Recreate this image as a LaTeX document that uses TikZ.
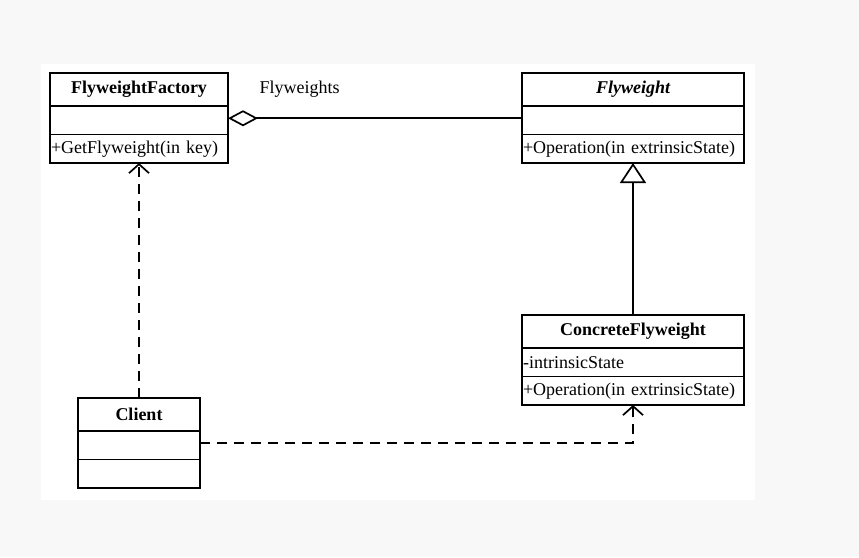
\documentclass[tikz,border=0pt]{standalone}
\usepackage{fontspec}
\setmainfont{Liberation Serif}
\usetikzlibrary{positioning,arrows.meta}
\definecolor{pagebg}{HTML}{F8F8F8}
\begin{document}
\begin{tikzpicture}[x=1pt,y=-1pt,
  font=\fontsize{18}{20}\selectfont,
  box/.style={draw,rectangle,line width=1.6pt,outer sep=0pt,inner xsep=1pt,inner ysep=0pt,minimum height=28.5pt},
  head/.style={box,minimum width=#1,minimum height=33pt,font=\fontsize{18}{20}\selectfont\bfseries},
  row/.style={box,text width=#1,align=left},
  link/.style={line width=1.7pt},
  dep/.style={link,dash pattern=on 10pt off 7pt,-{Straight Barb[length=9pt,width=20pt]}}]
  \useasboundingbox (0,0) rectangle (859,557);
  \fill[pagebg] (0,0) rectangle (859,557);
  \fill[white] (41,64) rectangle (755,500);

  % classes
  \node[head=178pt] (factory) at (139,89.5) {FlyweightFactory};
  \node[row=176pt,below=0pt of factory] (factoryattr) {};
  \node[row=176pt,below=0pt of factoryattr] (factoryop) {+GetFlyweight(in key)};

  \node[head=222pt] (flyweight) at (633,89.5) {\itshape Flyweight};
  \node[row=220pt,below=0pt of flyweight] (flyweightattr) {};
  \node[row=220pt,below=0pt of flyweightattr] (flyweightop) {+Operation(in extrinsicState)};

  \node[head=222pt] (concrete) at (633,331.5) {ConcreteFlyweight};
  \node[row=220pt,below=0pt of concrete] (concreteattr) {-intrinsicState};
  \node[row=220pt,below=0pt of concreteattr] (concreteop) {+Operation(in extrinsicState)};

  \node[head=122pt] (client) at (139,414.5) {Client};
  \node[row=120pt,below=0pt of client] (clientattr) {};
  \node[row=120pt,below=0pt of clientattr] (clientop) {};

  \node[anchor=west] (role) at (256,89) {Flyweights};

  % relations
  \draw[link,{Diamond[open,length=30pt,width=16pt]}-] ([yshift=2pt]factoryattr.east) -- ([yshift=2pt]flyweightattr.west);
  \draw[link,-{Triangle[open,length=20pt,width=26pt]}] (concrete.north) -- (flyweightop.south);
  \draw[dep] (client.north) -- (factoryop.south);
  \draw[dep] ([yshift=2pt]clientattr.east) -| (concreteop.south);
\end{tikzpicture}
\end{document}
